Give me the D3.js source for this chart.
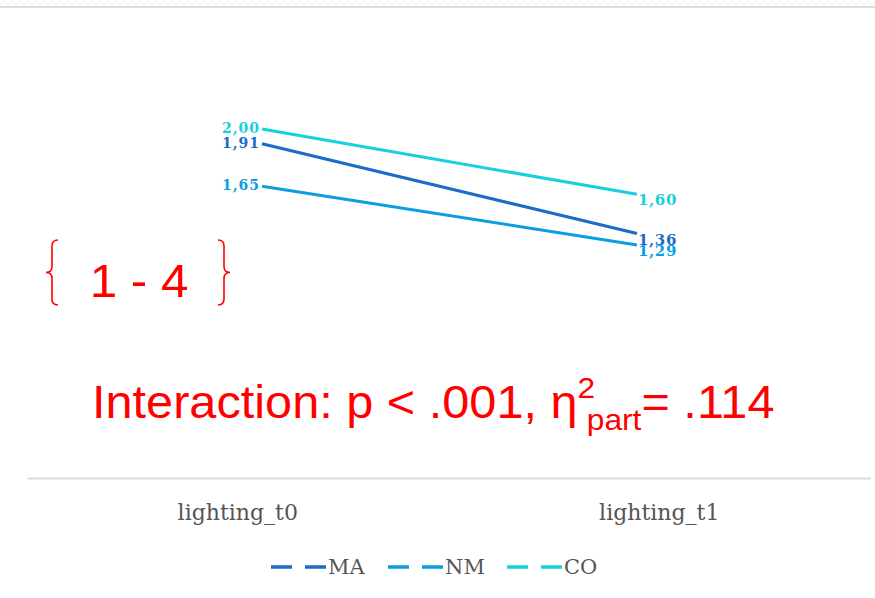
<!DOCTYPE html>
<html><head><meta charset="utf-8">
<script src="https://cdn.jsdelivr.net/npm/d3@7"></script>
<style>html,body{margin:0;padding:0;background:#fff;}</style>
</head><body>
<svg id="chart" width="875" height="598"></svg>
<script>
const categories = ["lighting_t0", "lighting_t1"];
const seriesNames = ["MA", "NM", "CO"];
const valuesMA = [1.91, 1.36];
const valuesNM = [1.65, 1.29];
const valuesCO = [2.00, 1.60];
const valueLabelsMA = ["1,91", "1,36"];
const valueLabelsNM = ["1,65", "1,29"];
const valueLabelsCO = ["2,00", "1,60"];
const colors = ["#1a6cc8", "#0a9fdf", "#17d0dc"];

const series = [
  {name: seriesNames[0], values: valuesMA, labels: valueLabelsMA, color: colors[0]},
  {name: seriesNames[1], values: valuesNM, labels: valueLabelsNM, color: colors[1]},
  {name: seriesNames[2], values: valuesCO, labels: valueLabelsCO, color: colors[2]}
];

const svg = d3.select("#chart");
const serif = "'DejaVu Serif', 'Liberation Serif', serif";

// top decoration
const defs = svg.append("defs");
const pat = defs.append("pattern").attr("id","zz").attr("width",8).attr("height",6).attr("patternUnits","userSpaceOnUse");
pat.append("path").attr("d","M0,5 L4,1 L8,5").attr("fill","none").attr("stroke","#f0f0f0").attr("stroke-width",1);
svg.append("rect").attr("x",0).attr("y",0).attr("width",875).attr("height",6).attr("fill","url(#zz)");
svg.append("line").attr("x1",0).attr("x2",875).attr("y1",7).attr("y2",7).attr("stroke","#dcdcdc").attr("stroke-width",2);

// scales
const xBand = d3.scaleBand().domain(categories).range([27, 870]);
const xPt = d3.scalePoint().domain(categories).range([262, 637]);
const y = d3.scaleLinear().domain([1.29, 2.00]).range([245, 129]);

// axis baseline + labels
const axis = svg.append("g").attr("transform","translate(0,478)")
  .call(d3.axisBottom(xBand).tickSize(0).tickPadding(26));
axis.select(".domain").attr("stroke","#dcdcdc").attr("stroke-width",2);
axis.selectAll("text").attr("font-family",serif).attr("font-size",22).attr("fill","#555");

// lines
const line = d3.line().x((d,i)=>xPt(categories[i])).y(d=>y(d));
series.forEach(s => {
  svg.append("path").datum(s.values).attr("d", line)
    .attr("fill","none").attr("stroke", s.color).attr("stroke-width",3);
  svg.append("text").attr("x", xPt(categories[0]) - 2).attr("y", y(s.values[0]) - 1)
    .attr("text-anchor","end").attr("dominant-baseline","central")
    .attr("font-family",serif).attr("font-weight","bold").attr("font-size",14)
    .attr("letter-spacing",1)
    .attr("fill", s.color).text(s.labels[0]);
  svg.append("text").attr("x", xPt(categories[1]) + 1).attr("y", y(s.values[1]) + 6)
    .attr("text-anchor","start").attr("dominant-baseline","central")
    .attr("font-family",serif).attr("font-weight","bold").attr("font-size",15)
    .attr("letter-spacing",0.6)
    .attr("fill", s.color).text(s.labels[1]);
});

// red annotation 1 - 4 with braces
const red = "#ff0000";
svg.append("text").attr("transform","translate(139,297) scale(1.05,1)").attr("text-anchor","middle")
  .attr("font-family","'Liberation Sans', Arial, sans-serif").attr("font-size",47).attr("fill",red).text("1 - 4");
function brace(x, top, bot, dir){
  const mid=(top+bot)/2, w=6*dir;
  return `M${x},${top} Q${x+w},${top} ${x+w},${top+6} L${x+w},${mid-6} Q${x+w},${mid} ${x+2*w},${mid} Q${x+w},${mid} ${x+w},${mid+6} L${x+w},${bot-6} Q${x+w},${bot} ${x},${bot}`;
}
svg.append("path").attr("d", brace(58,240,305,-1)).attr("fill","none").attr("stroke",red).attr("stroke-width",1.6);
svg.append("path").attr("d", brace(218,240,305,1)).attr("fill","none").attr("stroke",red).attr("stroke-width",1.6);

// interaction text
const it = svg.append("text").attr("transform","translate(92,418) scale(1.058,1)")
  .attr("font-family","'Liberation Sans', Arial, sans-serif").attr("font-size",46).attr("fill",red);
it.append("tspan").text("Interaction: p < .001, η");
it.append("tspan").attr("font-size",30).attr("dy",-20).text("2");
it.append("tspan").attr("font-size",30).attr("dy",32).attr("dx",-8).text("part");
it.append("tspan").attr("dy",-12).text("= .114");

// legend
const legend = svg.append("g").attr("transform","translate(0,567)");
const legendX = [271, 388, 507];
series.forEach((s,i) => {
  const g = legend.append("g").attr("transform",`translate(${legendX[i]},0)`);
  g.append("line").attr("x1",0).attr("x2",55).attr("y1",0).attr("y2",0)
    .attr("stroke",s.color).attr("stroke-width",3.5).attr("stroke-dasharray","21,13");
  g.append("text").attr("x",57).attr("y",0).attr("dominant-baseline","central")
    .attr("font-family",serif).attr("font-size",21).attr("fill","#555").text(s.name);
});
</script>
</body></html>
